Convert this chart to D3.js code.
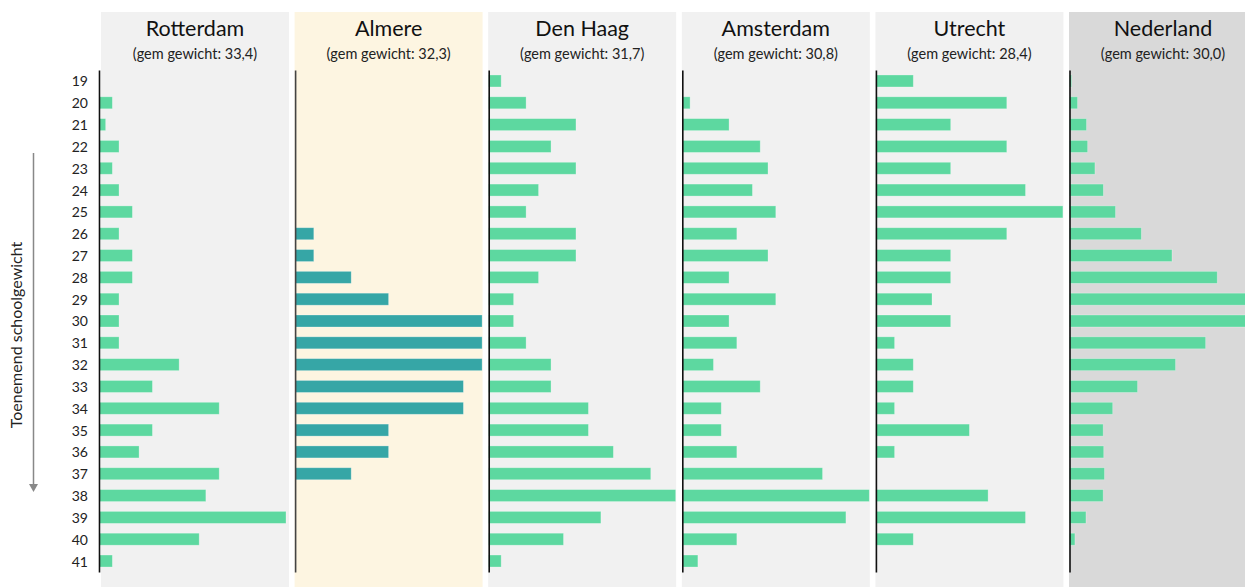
<!DOCTYPE html>
<html>
<head>
<meta charset="utf-8">
<script src="https://cdn.jsdelivr.net/npm/d3@7"></script>
<style>
  body { margin: 0; background: #fff; }
  svg { display: block; font-family: Lato, "Open Sans", sans-serif; }
</style>
</head>
<body>
<svg id="chart"></svg>
<script>
// schoolgewicht categories (rows)
let weights = d3.range(19, 42);

let cities = ['Rotterdam', 'Almere', 'Den Haag', 'Amsterdam', 'Utrecht', 'Nederland'];
let averages = ['33,4', '32,3', '31,7', '30,8', '28,4', '30,0'];

// values per weight 19..41
let rotterdam = [0, 2, 1, 3, 2, 3, 5, 3, 5, 5, 3, 3, 3, 12, 8, 18, 8, 6, 18, 16, 28, 15, 2];
let almere    = [0, 0, 0, 0, 0, 0, 0, 1, 1, 3, 5, 10, 10, 10, 9, 9, 5, 5, 3, 0, 0, 0, 0];
let denHaag   = [1, 3, 7, 5, 7, 4, 3, 7, 7, 4, 2, 2, 3, 5, 5, 8, 8, 10, 13, 15, 9, 6, 1];
let amsterdam = [0, 1, 6, 10, 11, 9, 12, 7, 11, 6, 12, 6, 7, 4, 10, 5, 5, 7, 18, 24, 21, 7, 2];
let utrecht   = [2, 7, 4, 7, 4, 8, 10, 7, 4, 4, 3, 4, 1, 2, 2, 1, 5, 1, 0, 6, 8, 2, 0];
let nederland = [1.1, 4.3, 9.1, 9.7, 13.6, 18.1, 24.6, 38.4, 54.8, 79, 97, 100, 72.8, 56.7, 36.4, 23.1, 18, 18.3, 18.7, 18, 8.8, 2.9, 0];

let series = [rotterdam, almere, denHaag, amsterdam, utrecht, nederland];

let width = 1245;
let height = 587;

let panelBg = ['#f1f1f1', '#fdf5e1', '#f1f1f1', '#f1f1f1', '#f1f1f1', '#d9d9d9'];
let barColor = ['#5dd8a0', '#36a6a6', '#5dd8a0', '#5dd8a0', '#5dd8a0', '#5dd8a0'];

let svg = d3.select('#chart').attr('width', width).attr('height', height);

let xPanel = d3.scaleBand()
  .domain(cities)
  .range([101, 1257])
  .paddingInner(0.029);

let yScale = d3.scaleBand()
  .domain(weights)
  .range([70, 572])
  .paddingInner(0.45)
  .paddingOuter(0.228);

let barMax = 187;

let drawPanels = () => {
  cities.forEach((city, i) => {
    let x0 = xPanel(city);
    let g = svg.append('g').attr('transform', 'translate(' + x0 + ',0)');

    g.append('rect')
      .attr('x', 0)
      .attr('y', 12)
      .attr('width', xPanel.bandwidth())
      .attr('height', height)
      .attr('fill', panelBg[i]);

    g.append('text')
      .attr('x', xPanel.bandwidth() / 2)
      .attr('y', 36)
      .attr('text-anchor', 'middle')
      .attr('font-size', 21.5)
      .attr('fill', '#111')
      .text(city);

    g.append('text')
      .attr('x', xPanel.bandwidth() / 2)
      .attr('y', 59)
      .attr('text-anchor', 'middle')
      .attr('font-size', 14.5)
      .attr('fill', '#222')
      .text('(gem gewicht: ' + averages[i] + ')');

    let xScale = d3.scaleLinear()
      .domain([0, d3.max(series[i])])
      .range([0, barMax]);

    let axisX = i === 0 ? -2 : 0.5;

    g.selectAll('rect.bar')
      .data(series[i].map((v, k) => ({ w: weights[k], v: v })).filter(d => d.v > 0))
      .enter()
      .append('rect')
      .attr('class', 'bar')
      .attr('x', axisX)
      .attr('y', d => yScale(d.w))
      .attr('width', d => xScale(d.v))
      .attr('height', yScale.bandwidth())
      .attr('fill', barColor[i])
      .attr('stroke', '#fff')
      .attr('stroke-opacity', 0.35)
      .attr('stroke-width', 0.8);

    let axis = d3.axisLeft(yScale).tickSize(0).tickFormat('');
    let ag = g.append('g')
      .attr('transform', 'translate(' + axisX + ',0)')
      .call(axis);
    ag.select('.domain').attr('stroke', i === 1 ? '#444' : '#111').attr('stroke-width', 1.6);
  });
};

let drawLabels = () => {
  let yAxis = d3.axisLeft(yScale).tickSize(0).tickPadding(11);
  let ag = svg.append('g')
    .attr('transform', 'translate(99,1)')
    .call(yAxis);
  ag.select('.domain').remove();
  ag.selectAll('text')
    .attr('font-family', 'Lato, sans-serif')
    .attr('font-size', 14)
    .attr('fill', '#222');

  svg.append('text')
    .attr('transform', 'translate(22,335) rotate(-90)')
    .attr('text-anchor', 'middle')
    .attr('font-size', 16)
    .attr('fill', '#222')
    .text('Toenemend schoolgewicht');

  // arrow
  svg.append('line')
    .attr('x1', 33.5).attr('x2', 33.5)
    .attr('y1', 153).attr('y2', 486)
    .attr('stroke', '#888')
    .attr('stroke-width', 1.5);
  svg.append('path')
    .attr('d', 'M29,484 L38,484 L33.5,492 Z')
    .attr('fill', '#888');
};

drawPanels();
drawLabels();
</script>
</body>
</html>
